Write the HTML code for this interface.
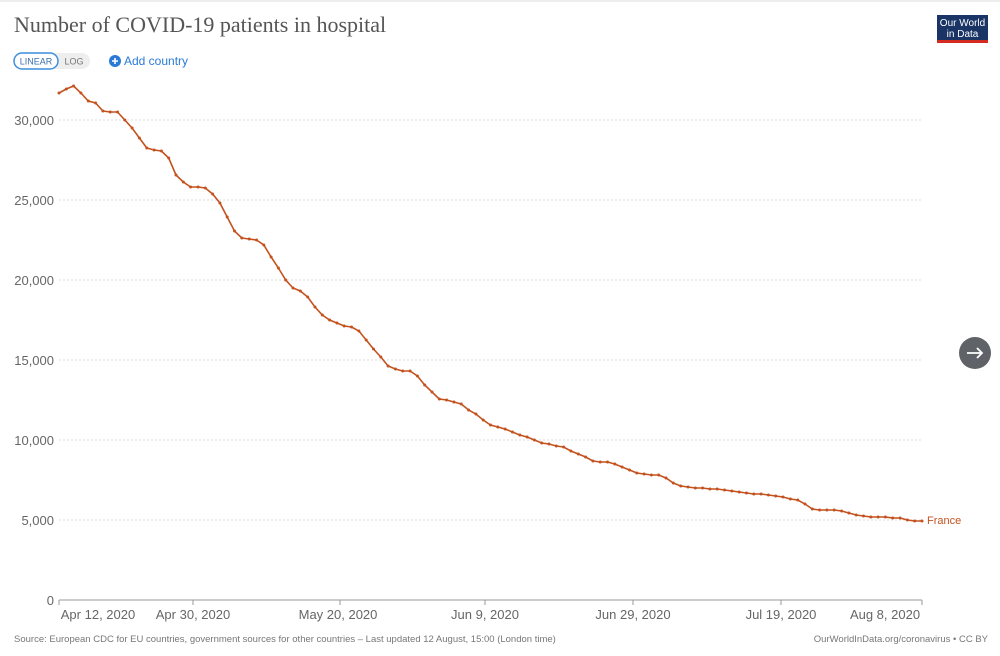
<!DOCTYPE html>
<html><head><meta charset="utf-8"><style>
body{margin:0;width:1000px;height:651px;background:#fff;overflow:hidden;font-family:"Liberation Sans",sans-serif}
</style></head><body>
<svg width="1000" height="651" xmlns="http://www.w3.org/2000/svg" font-family="Liberation Sans, sans-serif">
<rect x="0" y="0" width="1000" height="651" fill="#fff"/>
<rect x="0" y="0" width="1000" height="2" fill="#eee"/>
<text x="14" y="32" font-family="Liberation Serif, serif" font-size="22" fill="#555">Number of COVID-19 patients in hospital</text>
<rect x="14" y="53" width="76" height="16" rx="8" fill="#eee"/>
<rect x="14" y="53" width="44" height="16" rx="8" fill="#fff" stroke="#3b8ede" stroke-width="1.5"/>
<text x="36" y="64.5" font-size="9" fill="#3b6fb0" text-anchor="middle">LINEAR</text>
<text x="74" y="64.5" font-size="9" fill="#777" text-anchor="middle">LOG</text>
<circle cx="115" cy="61" r="6" fill="#2a7ad6"/>
<path d="M112 61h6M115 58v6" stroke="#fff" stroke-width="1.6"/>
<text x="124" y="65" font-size="12" fill="#2a7ad6">Add country</text>
<rect x="937" y="15" width="51" height="26" fill="#1a3466"/>
<rect x="937" y="40" width="51" height="3" fill="#d42b21"/>
<text x="962.5" y="26" font-size="10" fill="#fff" text-anchor="middle">Our World</text>
<text x="962.5" y="37" font-size="10" fill="#fff" text-anchor="middle">in Data</text>
<g stroke="#ddd" stroke-dasharray="2,2" stroke-width="1">
<line x1="59" x2="922" y1="120" y2="120"/><line x1="59" x2="922" y1="200" y2="200"/>
<line x1="59" x2="922" y1="280" y2="280"/><line x1="59" x2="922" y1="360" y2="360"/>
<line x1="59" x2="922" y1="440" y2="440"/><line x1="59" x2="922" y1="520" y2="520"/>
</g>
<line x1="59" x2="922" y1="600" y2="600" stroke="#999"/>
<g font-size="13" fill="#666" text-anchor="end">
<text x="54" y="125">30,000</text><text x="54" y="205">25,000</text><text x="54" y="285">20,000</text>
<text x="54" y="365">15,000</text><text x="54" y="445">10,000</text><text x="54" y="525">5,000</text><text x="54" y="605">0</text>
</g>
<g stroke="#999"><line x1="193" x2="193" y1="600" y2="605"/><line x1="340" x2="340" y1="600" y2="605"/><line x1="485" x2="485" y1="600" y2="605"/><line x1="633" x2="633" y1="600" y2="605"/><line x1="781" x2="781" y1="600" y2="605"/><line x1="922" x2="922" y1="600" y2="605"/><line x1="59" x2="59" y1="600" y2="605"/></g>
<g font-size="13" fill="#666" text-anchor="middle">
<text x="98" y="619">Apr 12, 2020</text><text x="193" y="619">Apr 30, 2020</text><text x="338" y="619">May 20, 2020</text>
<text x="485" y="619">Jun 9, 2020</text><text x="633" y="619">Jun 29, 2020</text><text x="781" y="619">Jul 19, 2020</text><text x="885" y="619">Aug 8, 2020</text>
</g>
<g id="series"></g>
<text x="927" y="524" font-size="11" fill="#c4521f">France</text>
<text x="14" y="642" font-size="9.5" fill="#777">Source: European CDC for EU countries, government sources for other countries – Last updated 12 August, 15:00 (London time)</text>
<text x="988" y="642" font-size="9.5" fill="#777" text-anchor="end">OurWorldInData.org/coronavirus • CC BY</text>
<circle cx="975" cy="353" r="16" fill="#5f6368"/>
<path d="M967 353h15M977 348l5 5-5 5" stroke="#fff" stroke-width="1.8" fill="none"/>
</svg>
<script>
var ys=[93,89,86,93,101,103,111,112,112,120,128,138,148,150,151,158,175,182,187,187,188,194,203,217,231,238,239,240,245,257,268,280,288,291,297,307,315,320,323,326,327,331,340,349,357,366,369,371,371,376,385,392,399,400,402,404,410,414,420,425,427,429,432,435,437,440,443,444,446,447,451,454,457,461,462,462,464,467,470,473,474,475,475,478,483,486,487,488,488,489,489,490,491,492,493,494,494,495,496,497,499,500,504,509,510,510,510,511,513,515,516,517,517,517,518,518,520,521,521];
var n=ys.length,s="",c="";
for(var i=0;i<n;i++){var x=59+863*i/(n-1);s+=x.toFixed(1)+","+ys[i]+" ";c+='<circle cx="'+x.toFixed(1)+'" cy="'+ys[i]+'" r="1.5" fill="#c4521f"/>';}
document.getElementById("series").innerHTML='<polyline points="'+s+'" fill="none" stroke="#c4521f" stroke-width="1.6"/>'+c;
</script>
</body></html>
